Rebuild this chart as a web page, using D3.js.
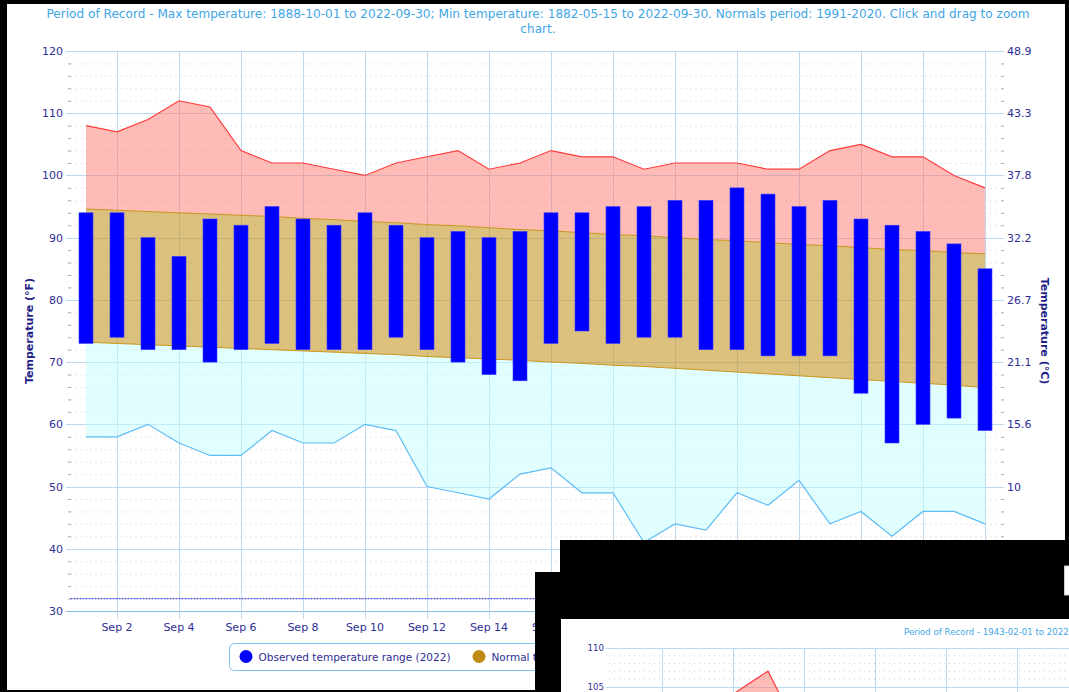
<!DOCTYPE html>
<html lang="en">
<head>
<meta charset="UTF-8">
<title>Daily temperature - September 2022</title>
<script src="https://cdn.jsdelivr.net/npm/d3@7/dist/d3.min.js"></script>
<style>
    body { margin: 0; background: #000; }
    svg { display: block; }
    text { font-family: "DejaVu Sans", Verdana, sans-serif; }
</style>
</head>
<body>
<script>
    // 9月的日期
    var days = [1, 2, 3, 4, 5, 6, 7, 8, 9, 10, 11, 12, 13, 14, 15, 16, 17, 18, 19, 20, 21, 22, 23, 24, 25, 26, 27, 28, 29, 30];
    // 2022 observed range (°F)
    var obsHigh = [94, 94, 90, 87, 93, 92, 95, 93, 92, 94, 92, 90, 91, 90, 91, 94, 94, 95, 95, 96, 96, 98, 97, 95, 96, 93, 92, 91, 89, 85];
    var obsLow = [73, 74, 72, 72, 70, 72, 73, 72, 72, 72, 74, 72, 70, 68, 67, 73, 75, 73, 74, 74, 72, 72, 71, 71, 71, 65, 57, 60, 61, 59];
    // normals 1991-2020
    var normHigh = [94.6, 94.4, 94.2, 94.0, 93.8, 93.6, 93.4, 93.1, 92.9, 92.6, 92.4, 92.1, 91.9, 91.6, 91.3, 91.1, 90.8, 90.5, 90.3, 90.0, 89.7, 89.5, 89.2, 88.9, 88.7, 88.4, 88.1, 87.9, 87.6, 87.4];
    var normLow = [73.2, 73.0, 72.8, 72.6, 72.4, 72.2, 72.0, 71.8, 71.6, 71.4, 71.2, 70.9, 70.7, 70.5, 70.3, 70.0, 69.8, 69.5, 69.3, 69.0, 68.7, 68.4, 68.1, 67.8, 67.5, 67.2, 66.9, 66.6, 66.3, 65.9];
    // records
    var recHigh = [108, 107, 109, 112, 111, 104, 102, 102, 101, 100, 102, 103, 104, 101, 102, 104, 103, 103, 101, 102, 102, 102, 101, 101, 104, 105, 103, 103, 100, 98];
    var recLow = [58, 58, 60, 57, 55, 55, 59, 57, 57, 60, 59, 50, 49, 48, 52, 53, 49, 49, 41, 44, 43, 49, 47, 51, 44, 46, 42, 46, 46, 44];
    // axis ticks
    var fTicks = [30, 40, 50, 60, 70, 80, 90, 100, 110, 120];
    var dayTicks = [2, 4, 6, 8, 10, 12, 14, 16, 18, 20, 22, 24, 26, 28, 30];
    var freezing = 32;
    var titleLines = [
        'Period of Record - Max temperature: 1888-10-01 to 2022-09-30; Min temperature: 1882-05-15 to 2022-09-30. Normals period: 1991-2020. Click and drag to zoom',
        'chart.'
    ];
    var legendNames = ['Observed temperature range (2022)', 'Normal temperature range'];
    var legendColors = ['#0000ff', '#c08a14'];

    // the window that sits on top (another chart, only partly seen)
    var insetDays = [3, 4, 5, 6];
    var insetRecHigh = [101, 104, 107, 98];
    var insetTicks = [105, 110];
    var insetDayTicks = [2, 4, 6, 8, 10, 12];

    var width = 1069, height = 692;
    var plot = {left: 70.5, right: 1000.5, top: 51, bottom: 611};
    var navy = '#2e2e96';
    var gridBlue = '#bcd9f1';
    var coverLeft = 535; // the black window covers everything right of this, below y=572

    var svg = d3.select('body').append('svg').attr('width', width).attr('height', height);
    svg.append('rect').attr('width', width).attr('height', height).attr('fill', '#000');
    svg.append('rect').attr('x', 7).attr('y', 4).attr('width', 1058).attr('height', 686).attr('fill', '#fff');

    var x = d3.scaleLinear().domain([0.5, 30.5]).range([plot.left, plot.right]);
    var y = d3.scaleLinear().domain([30, 120]).range([plot.bottom, plot.top]);
    var toC = f => {
        var c = (f - 32) * 5 / 9;
        return Math.abs(c - Math.round(c)) < 0.05 ? String(Math.round(c)) : c.toFixed(1);
    };

    // title
    svg.selectAll('.title').data(titleLines).enter().append('text')
        .attr('class', 'title')
        .attr('x', 538).attr('y', (d, i) => 18 + i * 15)
        .attr('text-anchor', 'middle')
        .attr('font-size', '12.1px')
        .attr('fill', '#3fa6e6')
        .text(d => d);

    // minor grid, every 2 degrees
    var minor = d3.range(30, 121, 2).filter(v => v % 10 !== 0);
    svg.append('g').selectAll('line').data(minor).enter().append('line')
        .attr('x1', plot.left).attr('x2', plot.right)
        .attr('y1', d => y(d) + 0.5).attr('y2', d => y(d) + 0.5)
        .attr('stroke', '#cfcfcf').attr('stroke-dasharray', '1,4');
    // minor ticks both sides
    svg.append('g').selectAll('line').data(minor).enter().append('line')
        .attr('x1', 68).attr('x2', 71)
        .attr('y1', d => y(d) + 0.5).attr('y2', d => y(d) + 0.5)
        .attr('stroke', '#a8a8a8');
    svg.append('g').selectAll('line').data(minor).enter().append('line')
        .attr('x1', 1001).attr('x2', 1004)
        .attr('y1', d => y(d) + 0.5).attr('y2', d => y(d) + 0.5)
        .attr('stroke', '#a8a8a8');

    // major grid
    svg.append('g').selectAll('line').data(fTicks).enter().append('line')
        .attr('x1', 66).attr('x2', 1004)
        .attr('y1', d => Math.round(y(d)) + 0.5).attr('y2', d => Math.round(y(d)) + 0.5)
        .attr('stroke', d => d === 30 ? '#7fbfea' : gridBlue);

    // vertical grid every 2 days
    svg.append('g').selectAll('line').data(dayTicks).enter().append('line')
        .attr('x1', d => Math.round(x(d)) + 0.5).attr('x2', d => Math.round(x(d)) + 0.5)
        .attr('y1', plot.top).attr('y2', plot.bottom + 8)
        .attr('stroke', gridBlue);

    // record high area (down to normal high)
    var recHighArea = d3.area().x((d, i) => x(days[i])).y0((d, i) => y(normHigh[i])).y1(d => y(d));
    svg.append('path').datum(recHigh).attr('d', recHighArea)
        .attr('fill', '#ff786e').attr('fill-opacity', 0.5);
    // record low area (normal low down to record low)
    var recLowArea = d3.area().x((d, i) => x(days[i])).y0(d => y(d)).y1((d, i) => y(normLow[i]));
    svg.append('path').datum(recLow).attr('d', recLowArea)
        .attr('fill', '#c4ffff').attr('fill-opacity', 0.5);
    // normal band
    var normArea = d3.area().x((d, i) => x(days[i])).y0((d, i) => y(normLow[i])).y1(d => y(d));
    svg.append('path').datum(normHigh).attr('d', normArea)
        .attr('fill', '#c49628').attr('fill-opacity', 0.6);
    var lineGen = d3.line().x((d, i) => x(days[i])).y(d => y(d));
    [normHigh, normLow].forEach(s => {
        svg.append('path').datum(s).attr('d', lineGen)
            .attr('fill', 'none').attr('stroke', '#c9961c').attr('stroke-width', 1);
    });
    svg.append('path').datum(recHigh).attr('d', lineGen)
        .attr('fill', 'none').attr('stroke', '#ff3b3b').attr('stroke-width', 1.2);
    svg.append('path').datum(recLow).attr('d', lineGen)
        .attr('fill', 'none').attr('stroke', '#5dbcf5').attr('stroke-width', 1.2);

    // freezing line
    svg.append('line')
        .attr('x1', plot.left).attr('x2', plot.right)
        .attr('y1', y(freezing)).attr('y2', y(freezing))
        .attr('stroke', '#5050e0').attr('stroke-width', 1.2).attr('stroke-dasharray', '2,1');

    // observed bars
    svg.append('g').selectAll('rect').data(days).enter().append('rect')
        .attr('x', d => x(d) - 7)
        .attr('y', (d, i) => y(obsHigh[i]))
        .attr('width', 14)
        .attr('height', (d, i) => y(obsLow[i]) - y(obsHigh[i]))
        .attr('fill', '#0000ff')
        .attr('stroke', '#3b3bff').attr('stroke-width', 0.6);

    // left axis labels
    svg.append('g').selectAll('text').data(fTicks).enter().append('text')
        .attr('x', 63).attr('y', d => y(d) + 4)
        .attr('text-anchor', 'end').attr('font-size', '11px').attr('fill', navy)
        .text(d => d);
    // right axis labels (the two lowest sit under the black window)
    svg.append('g').selectAll('text').data(fTicks.filter(d => y(d) < 540)).enter().append('text')
        .attr('x', 1007).attr('y', d => y(d) + 4)
        .attr('text-anchor', 'start').attr('font-size', '11px').attr('fill', navy)
        .text(d => toC(d));
    // x labels, only those not hidden by the black window
    svg.append('g').selectAll('text').data(dayTicks.filter(d => x(d) - 18 < coverLeft)).enter().append('text')
        .attr('x', d => x(d)).attr('y', 631)
        .attr('text-anchor', 'middle').attr('font-size', '11px').attr('fill', navy)
        .text(d => 'Sep ' + d);

    // axis titles
    svg.append('text')
        .attr('transform', 'translate(33,331) rotate(-90)')
        .attr('text-anchor', 'middle').attr('font-size', '11px').attr('font-weight', 'bold').attr('fill', '#1e1e88')
        .text('Temperature (°F)');
    svg.append('text')
        .attr('transform', 'translate(1041,331) rotate(90)')
        .attr('text-anchor', 'middle').attr('font-size', '11px').attr('font-weight', 'bold').attr('fill', '#1e1e88')
        .text('Temperature (°C)');

    // legend (its right part is under the black window)
    svg.append('clipPath').attr('id', 'legendClip')
        .append('rect').attr('x', 220).attr('y', 635).attr('width', coverLeft - 220).attr('height', 45);
    var legend = svg.append('g').attr('clip-path', 'url(#legendClip)');
    legend.append('rect')
        .attr('x', 229.5).attr('y', 643.5).attr('width', 460).attr('height', 27).attr('rx', 5)
        .attr('fill', '#fff').attr('stroke', '#7cc4ee');
    var legendX = [246, 479];
    legend.selectAll('circle').data(legendNames).enter().append('circle')
        .attr('cx', (d, i) => legendX[i]).attr('cy', 656.5).attr('r', 6.5)
        .attr('fill', (d, i) => legendColors[i]);
    legend.selectAll('text').data(legendNames).enter().append('text')
        .attr('x', (d, i) => legendX[i] + 12.5).attr('y', 661)
        .attr('font-size', '10.5px').attr('fill', navy)
        .text(d => d);

    // black overlay windows
    svg.append('rect').attr('x', 560).attr('y', 540).attr('width', 509).attr('height', 152).attr('fill', '#000');
    svg.append('rect').attr('x', coverLeft).attr('y', 572).attr('width', 534).attr('height', 120).attr('fill', '#000');
    svg.append('rect').attr('x', 1064.5).attr('y', 566).attr('width', 6).attr('height', 29)
        .attr('fill', '#fff').attr('stroke', '#ccc');

    // inset chart window
    svg.append('clipPath').attr('id', 'insetClip')
        .append('rect').attr('x', 561).attr('y', 619).attr('width', 508).attr('height', 73);
    var inset = svg.append('g').attr('clip-path', 'url(#insetClip)');
    inset.append('rect').attr('x', 561).attr('y', 619).attr('width', 508).attr('height', 73).attr('fill', '#fff');
    var ix = d3.scaleLinear().domain([1, 2]).range([626, 661.5]);
    var iy = d3.scaleLinear().domain([105, 110]).range([686.7, 648]);
    inset.append('text')
        .attr('x', 904).attr('y', 635)
        .attr('font-size', '8.6px').attr('fill', '#3fa6e6')
        .text('Period of Record - 1943-02-01 to 2022');
    inset.append('g').selectAll('line').data([106, 107, 108, 109]).enter().append('line')
        .attr('x1', 609).attr('x2', 1069)
        .attr('y1', d => iy(d)).attr('y2', d => iy(d))
        .attr('stroke', '#cfcfcf').attr('stroke-dasharray', '1,4');
    inset.append('g').selectAll('line').data(insetTicks).enter().append('line')
        .attr('x1', 606).attr('x2', 1069)
        .attr('y1', d => Math.round(iy(d)) + 0.5).attr('y2', d => Math.round(iy(d)) + 0.5)
        .attr('stroke', gridBlue);
    inset.append('g').selectAll('line').data(insetDayTicks).enter().append('line')
        .attr('x1', d => Math.round(ix(d)) + 0.5).attr('x2', d => Math.round(ix(d)) + 0.5)
        .attr('y1', 648).attr('y2', 692)
        .attr('stroke', gridBlue);
    var insetArea = d3.area().x((d, i) => ix(insetDays[i])).y0(720).y1(d => iy(d));
    inset.append('path').datum(insetRecHigh).attr('d', insetArea)
        .attr('fill', '#ff786e').attr('fill-opacity', 0.5);
    var insetLine = d3.line().x((d, i) => ix(insetDays[i])).y(d => iy(d));
    inset.append('path').datum(insetRecHigh).attr('d', insetLine)
        .attr('fill', 'none').attr('stroke', '#ff3b3b').attr('stroke-width', 1.2);
    inset.append('g').selectAll('text').data(insetTicks).enter().append('text')
        .attr('x', 604).attr('y', d => iy(d) + 3)
        .attr('text-anchor', 'end').attr('font-size', '8.6px').attr('fill', navy)
        .text(d => d);
</script>
</body>
</html>
